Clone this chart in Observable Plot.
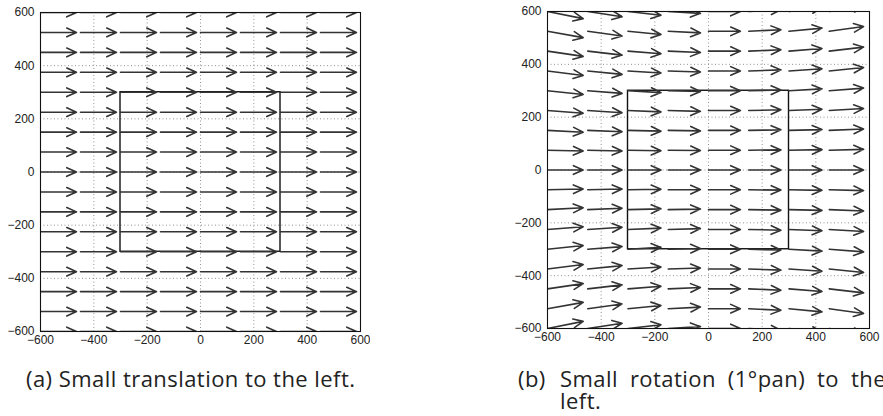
<!DOCTYPE html>
<html><head><meta charset="utf-8">
<script src="https://cdn.jsdelivr.net/npm/d3@7"></script>
<script src="https://cdn.jsdelivr.net/npm/@observablehq/plot@0.6"></script>
<style>
body{margin:0;background:#fff;width:883px;height:416px;overflow:hidden;position:relative;}
.panel{position:absolute;top:0;}
.cap{position:absolute;font-family:"Open Sans";font-size:22px;letter-spacing:0.45px;color:#222;line-height:22px;white-space:nowrap;}
</style></head><body>
<div id="a" class="panel" style="left:0px"></div>
<div id="b" class="panel" style="left:500px"></div>
<div class="cap" style="left:26px;top:367px">(a) Small translation to the left.</div>
<div class="cap" style="left:518px;top:367px">(b)</div>
<div class="cap" style="left:560px;top:367px;width:326px;text-align:justify;text-align-last:justify;">Small rotation (1°pan) to the</div>
<div class="cap" style="left:560px;top:389px">left.</div>
<script>
// grid of arrow tails
const gridX = [-600, -450, -300, -150, 0, 150, 300, 450];
const gridY = [600, 525, 450, 375, 300, 225, 150, 75, 0, -75, -150, -225, -300, -375, -450, -525, -600];
const tickValues = [-600, -400, -200, 0, 200, 400, 600];
const gridLines = [-400, -200, 0, 200, 400];
const regionBox = [{x1: -300, x2: 300, y1: -300, y2: 300}];

// (a) translation: horizontal component per column, vertical component zero everywhere
const uTranslation = [135, 135, 135, 135, 135, 135, 135, 135];
const vTranslation = gridY.map(() => [0, 0, 0, 0, 0, 0, 0, 0]);

// (b) rotation: horizontal component per column, vertical component per row/column
const uRotation = [133, 128, 123, 120, 119, 120, 123, 128];
const vRotation = [
  [-27, -20, -14, -7, 0, 7, 14, 20],
  [-24, -18, -12, -6, 0, 6, 12, 18],
  [-20, -15, -10, -5, 0, 5, 10, 15],
  [-17, -13, -8, -4, 0, 4, 8, 13],
  [-14, -10, -7, -3, 0, 3, 7, 10],
  [-10, -8, -5, -3, 0, 3, 5, 8],
  [-7, -5, -3, -2, 0, 2, 3, 5],
  [-3, -3, -2, -1, 0, 1, 2, 3],
  [0, 0, 0, 0, 0, 0, 0, 0],
  [3, 3, 2, 1, 0, -1, -2, -3],
  [7, 5, 3, 2, 0, -2, -3, -5],
  [10, 8, 5, 3, 0, -3, -5, -8],
  [14, 10, 7, 3, 0, -3, -7, -10],
  [17, 13, 8, 4, 0, -4, -8, -13],
  [20, 15, 10, 5, 0, -5, -10, -15],
  [24, 18, 12, 6, 0, -6, -12, -18],
  [27, 20, 14, 7, 0, -7, -14, -20]
];

function quiver(u, v, m) {
  const data = [];
  gridY.forEach((y, i) => gridX.forEach((x, j) => data.push({x, y, x2: x + u[j], y2: y + v[i][j]})));
  return Plot.plot({
    width: m.width, height: 350,
    marginLeft: m.left, marginRight: m.right, marginTop: m.top, marginBottom: m.bottom,
    x: {domain: [-600, 600], ticks: tickValues, label: null},
    y: {domain: [-600, 600], ticks: tickValues, label: null},
    style: {fontFamily: "Liberation Sans, Arial, sans-serif", fontSize: "12px", color: "#222", background: "white"},
    marks: [
      Plot.gridX(gridLines, {stroke: "#666", strokeOpacity: 0.9, strokeWidth: 0.8, strokeDasharray: "1,2.5"}),
      Plot.gridY(gridLines, {stroke: "#666", strokeOpacity: 0.9, strokeWidth: 0.8, strokeDasharray: "1,2.5"}),
      Plot.rect(regionBox, {x1: "x1", x2: "x2", y1: "y1", y2: "y2", fill: "none", stroke: "#111", strokeWidth: 1.4}),
      Plot.arrow(data, {x1: "x", y1: "y", x2: "x2", y2: "y2", stroke: "#333", strokeWidth: 1.6, headLength: 10, headAngle: 48, clip: true}),
      Plot.frame({stroke: "#111", strokeWidth: 1.1}),
      Plot.axisX({ticks: tickValues, tickSize: 0, tickPadding: 4}),
      Plot.axisY({ticks: tickValues, tickSize: 0, tickPadding: 6})
    ]
  });
}

document.getElementById("a").appendChild(quiver(uTranslation, vTranslation, {width: 370, left: 40, right: 10, top: 12, bottom: 19}));
document.getElementById("b").appendChild(quiver(uRotation, vRotation, {width: 383, left: 47, right: 14, top: 11, bottom: 22}));
</script>
</body></html>
